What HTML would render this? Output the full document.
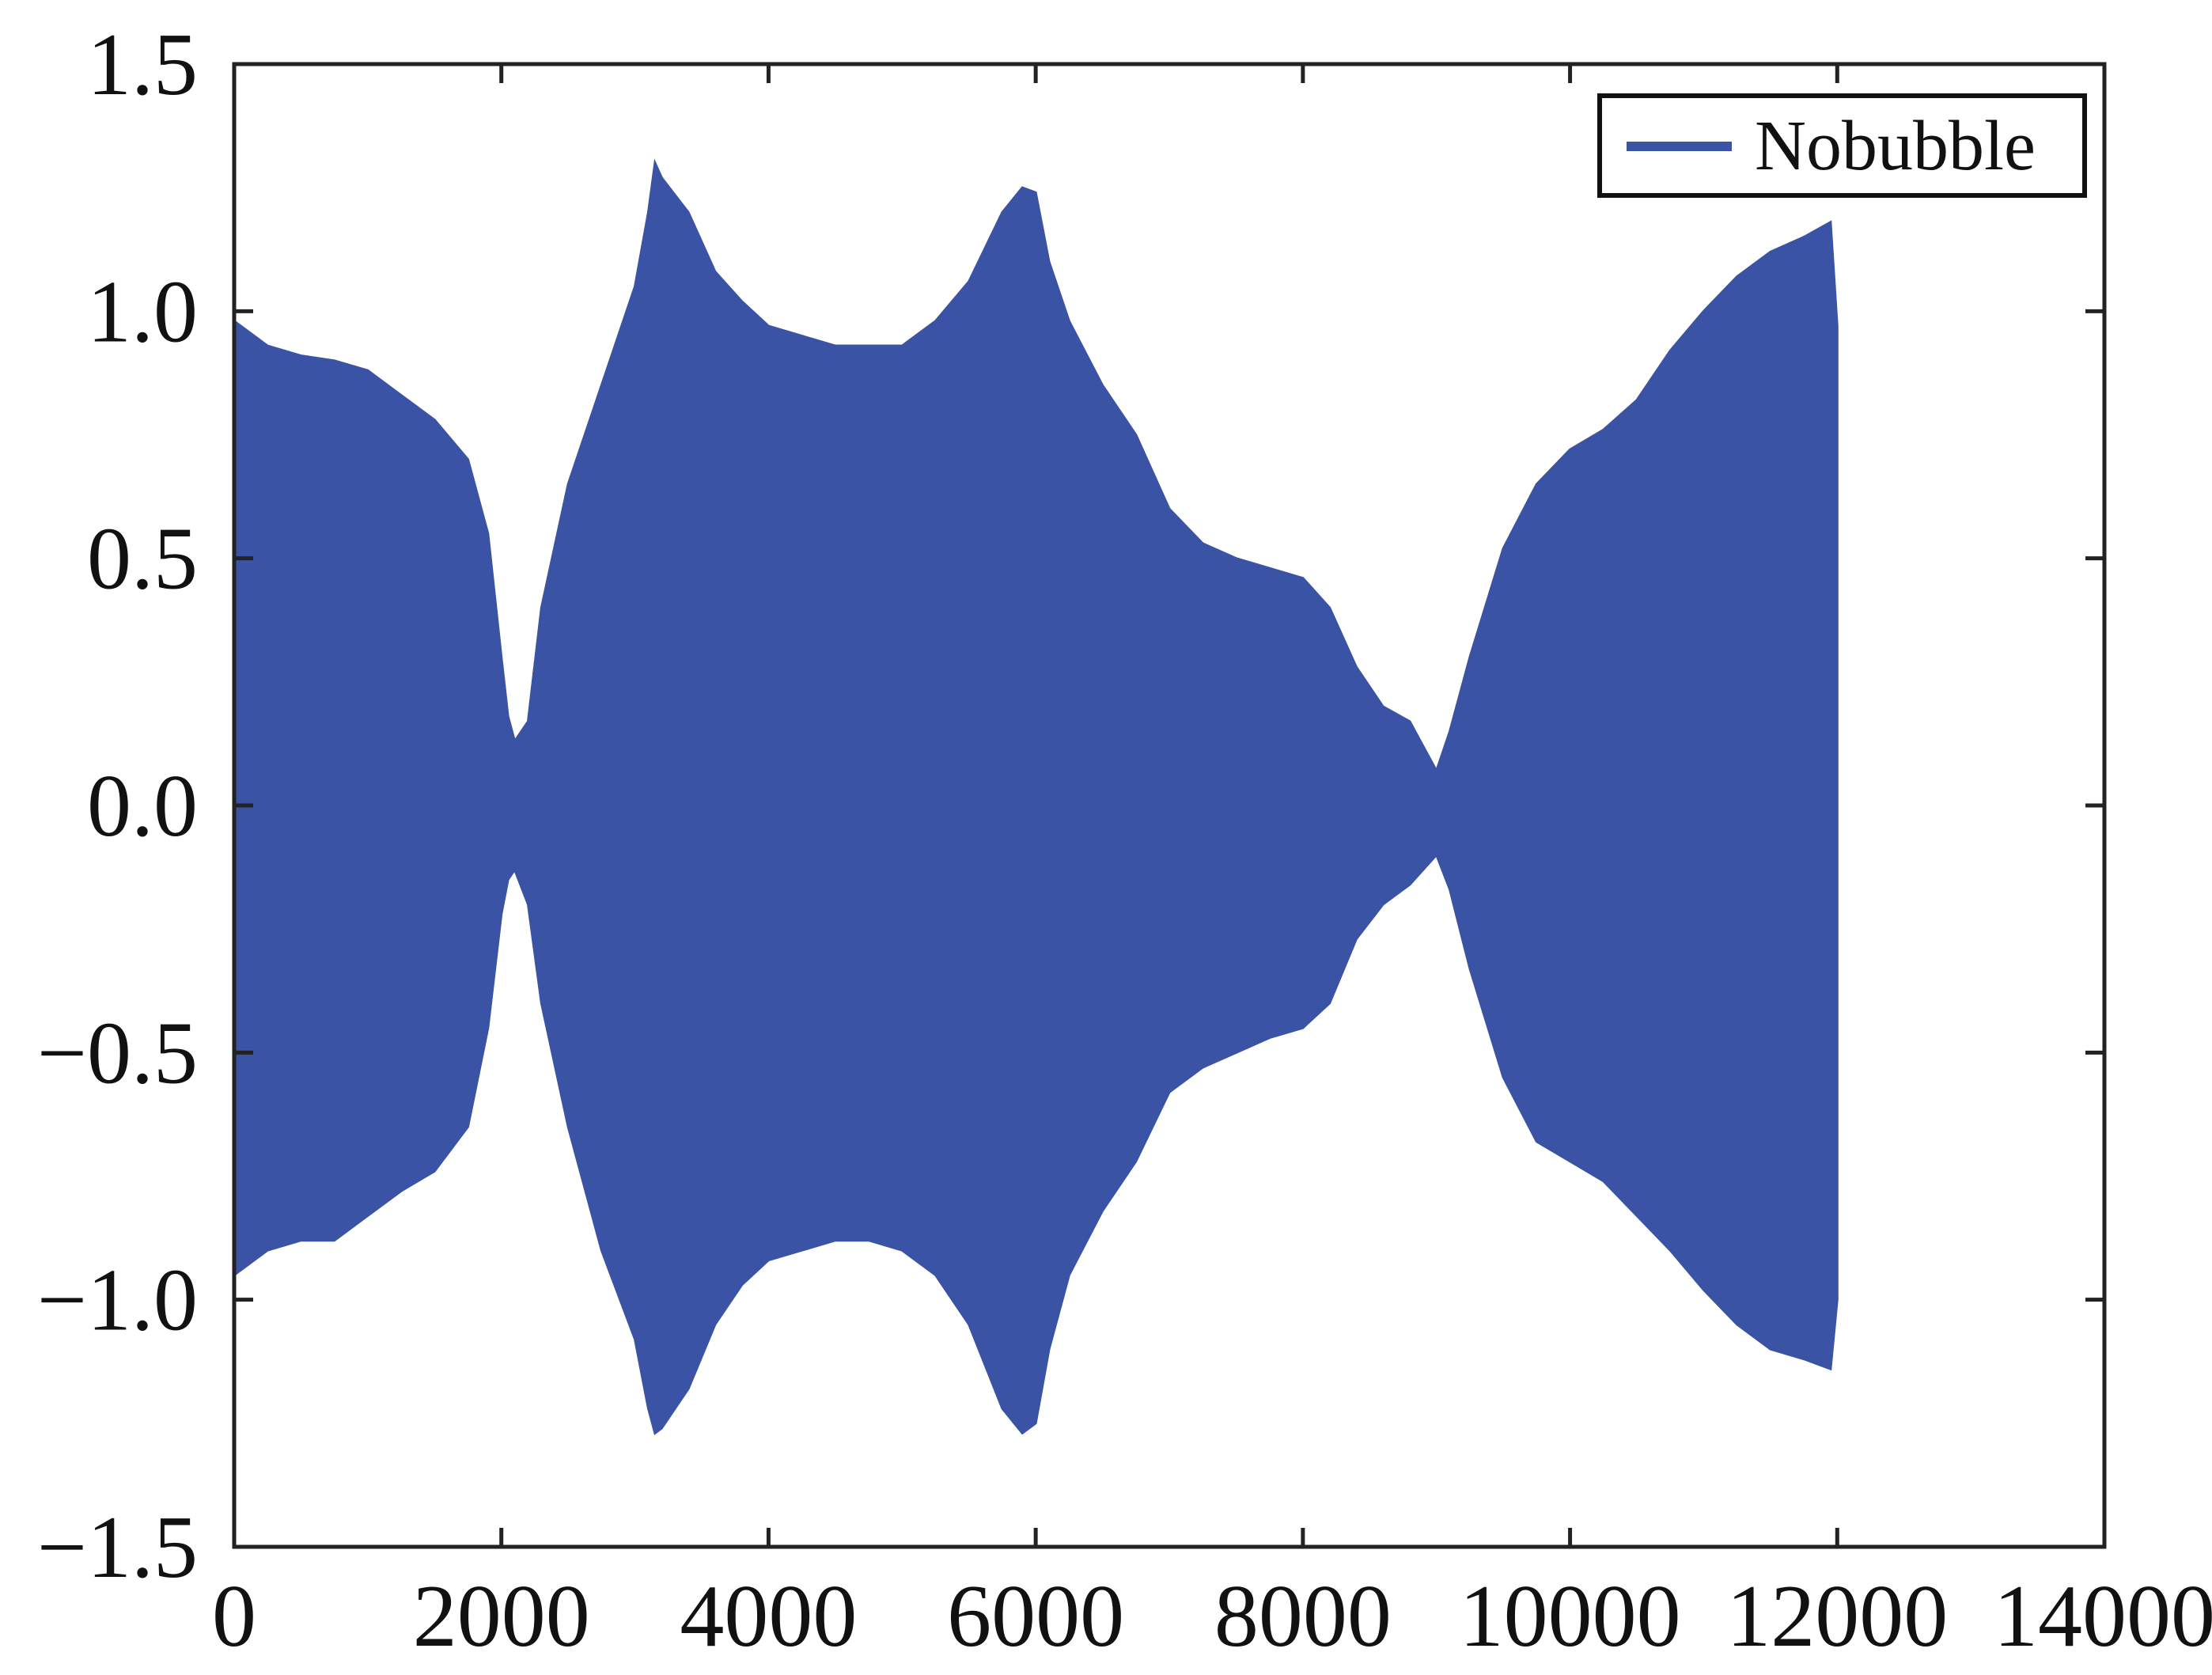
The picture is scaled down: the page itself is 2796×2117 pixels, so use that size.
<!DOCTYPE html>
<html><head><meta charset="utf-8"><style>
html,body{margin:0;padding:0;background:#fff;}
svg{display:block;}
text{font-family:"Liberation Serif",serif;fill:#111;}
</style></head><body>
<svg id="chart" width="2796" height="2117" viewBox="0 0 2796 2117" xmlns="http://www.w3.org/2000/svg">
<g id="plot"></g>
<g id="axes"></g>
<g id="legend">
<rect x="2022" y="121" width="613" height="126" fill="#fff" stroke="#111" stroke-width="6"/>
<line x1="2056" y1="185" x2="2189" y2="185" stroke="#3a53a4" stroke-width="12"/>
<text x="2218" y="214" font-size="90">Nobubble</text>
</g>
</svg>
<script>
const xs    = [0,250,500,750,1000,1250,1500,1750,1900,2000,2050,2100,2200,2300,2500,2750,3000,3100,3150,3200,3400,3600,3800,4000,4250,4500,4750,5000,5250,5500,5750,5900,6000,6100,6250,6500,6750,7000,7250,7500,7750,8000,8200,8400,8600,8800,9000,9100,9250,9500,9750,10000,10250,10500,10750,11000,11250,11500,11750,11950,12000];
const upper = [0.98,0.93,0.91,0.90,0.88,0.83,0.78,0.70,0.55,0.30,0.18,0.13,0.17,0.40,0.65,0.85,1.05,1.20,1.30,1.27,1.20,1.08,1.02,0.97,0.95,0.93,0.93,0.93,0.98,1.06,1.20,1.25,1.24,1.10,0.98,0.85,0.75,0.60,0.53,0.50,0.48,0.46,0.40,0.28,0.20,0.17,0.07,0.15,0.30,0.52,0.65,0.72,0.76,0.82,0.92,1.00,1.07,1.12,1.15,1.18,0.97];
const lower = [-0.95,-0.90,-0.88,-0.88,-0.83,-0.78,-0.74,-0.65,-0.45,-0.22,-0.15,-0.13,-0.20,-0.40,-0.65,-0.90,-1.08,-1.22,-1.27,-1.26,-1.18,-1.05,-0.97,-0.92,-0.90,-0.88,-0.88,-0.90,-0.95,-1.05,-1.22,-1.27,-1.25,-1.10,-0.95,-0.82,-0.72,-0.58,-0.53,-0.50,-0.47,-0.45,-0.40,-0.27,-0.20,-0.16,-0.10,-0.17,-0.33,-0.55,-0.68,-0.72,-0.76,-0.83,-0.90,-0.98,-1.05,-1.10,-1.12,-1.14,-1.00];
const xTicks = [0,2000,4000,6000,8000,10000,12000,14000];
const yTicks = [1.5,1.0,0.5,0.0,-0.5,-1.0,-1.5];
const yLabels = ["1.5","1.0","0.5","0.0","\u22120.5","\u22121.0","\u22121.5"];

const L=296,R=2660,T=81,B=1955;
const xMin=0,xMax=14000,yMin=-1.5,yMax=1.5;
const sx=v=>L+(v-xMin)/(xMax-xMin)*(R-L);
const sy=v=>B-(v-yMin)/(yMax-yMin)*(B-T);
const NS="http://www.w3.org/2000/svg";
function mk(tag,attrs,parent){const e=document.createElementNS(NS,tag);for(const k in attrs)e.setAttribute(k,attrs[k]);parent.appendChild(e);return e;}

const plot=document.getElementById('plot');
let pts=[];
for(let i=0;i<xs.length;i++)pts.push(sx(xs[i])+','+sy(upper[i]));
for(let i=xs.length-1;i>=0;i--)pts.push(sx(xs[i])+','+sy(lower[i]));
const poly=mk('polygon',{points:pts.join(' '),fill:'#3a53a4',stroke:'#3a53a4','stroke-width':3,'stroke-linejoin':'miter'},plot);



const axes=document.getElementById('axes');
const frame=mk('rect',{x:L,y:T,width:R-L,height:B-T,fill:'none',stroke:'#222','stroke-width':5},axes);


xTicks.forEach(v=>{
  const x=sx(v);
  const t1=mk('line',{x1:x,y1:B,x2:x,y2:B-24,stroke:'#222','stroke-width':5},axes);
  
  
  const t2=mk('line',{x1:x,y1:T,x2:x,y2:T+24,stroke:'#222','stroke-width':5},axes);
  
  
  const lb=mk('text',{x:x,y:2080,'font-size':112,'text-anchor':'middle'},axes);
  lb.textContent=String(v);
  
  
});
yTicks.forEach((v,i)=>{
  const y=sy(v);
  const t1=mk('line',{x1:L,y1:y,x2:L+24,y2:y,stroke:'#222','stroke-width':5},axes);
  
  
  const t2=mk('line',{x1:R,y1:y,x2:R-24,y2:y,stroke:'#222','stroke-width':5},axes);
  
  
  const lb=mk('text',{x:250,y:y+38,'font-size':112,'text-anchor':'end'},axes);
  lb.textContent=yLabels[i];
  
  
});
</script>
</body></html>
